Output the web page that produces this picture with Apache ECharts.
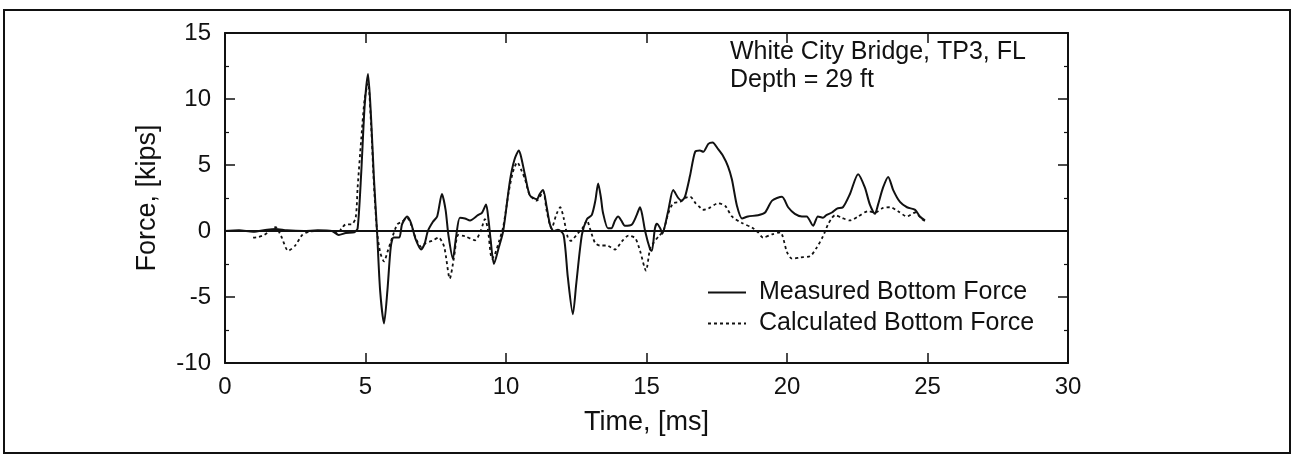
<!DOCTYPE html>
<html>
<head>
<meta charset="utf-8">
<script src="https://cdn.jsdelivr.net/npm/echarts@6/dist/echarts.min.js"></script>
<style>
  html, body { margin: 0; padding: 0; background: #fff; }
  #chart { width: 1294px; height: 458px; }
</style>
</head>
<body>
<div id="chart"></div>
<script>
// Time axis ticks [ms] and force axis ticks [kips]
const timeTicks = [0, 5, 10, 15, 20, 25, 30];
const forceTicks = [-10, -5, 0, 5, 10, 15];

// Measured bottom force record
const timeMeasured = [
  0.0, 0.5, 1.0, 1.5, 1.8, 2.2, 2.8, 3.3, 3.8, 4.05, 4.3, 4.6, 4.72, 4.85, 4.97, 5.09,
  5.2, 5.3, 5.41, 5.52, 5.66, 5.78, 5.9, 6.0, 6.2, 6.3, 6.48, 6.62, 6.78, 6.98, 7.1, 7.22,
  7.4, 7.55, 7.72, 7.85, 7.95, 8.11, 8.22, 8.36, 8.54, 8.72, 9.0, 9.15, 9.29, 9.38, 9.45, 9.57,
  9.75, 9.9, 10.14, 10.3, 10.46, 10.55, 10.68, 10.85, 11.1, 11.2, 11.32, 11.45, 11.57, 11.7, 11.85, 12.05,
  12.2, 12.38, 12.5, 12.7, 12.88, 13.05, 13.18, 13.28, 13.38, 13.45, 13.63, 13.75, 13.88, 13.99, 14.1, 14.23,
  14.48, 14.65, 14.77, 14.85, 14.95, 15.13, 15.19, 15.3, 15.37, 15.49, 15.56, 15.77, 15.95, 16.13, 16.25, 16.37,
  16.55, 16.73, 16.9, 17.02, 17.2, 17.35, 17.55, 17.72, 17.9, 18.04, 18.22, 18.4, 18.61, 18.97, 19.22, 19.47,
  19.82, 20.04, 20.28, 20.53, 20.7, 20.93, 21.1, 21.28, 21.4, 21.6, 21.78, 21.99, 22.24, 22.53, 22.77, 22.95,
  23.13, 23.24, 23.42, 23.6, 23.78, 24.02, 24.27, 24.56, 24.73, 24.91
];
const forceMeasured = [
  0, 0.05, -0.05, 0.1, 0.15, 0.05, 0, 0.05, 0, -0.3, -0.15, -0.1, 0.2, 4.5, 9.5, 11.9,
  8.5, 4.0, 0, -4.5, -7.0, -4.5, -1.2, -0.5, -0.5, 0.5, 1.1, 0.6, -0.6, -1.4, -1.0, 0,
  0.7, 1.1, 2.8, 1.6, -0.3, -2.1, -0.5, 1.0, 0.95, 0.8, 1.2, 1.4, 2.0, 0.8, -0.6, -2.5,
  -1.2, 0, 3.8, 5.4, 6.1, 5.5, 4.2, 2.7, 2.4, 2.8, 3.1, 1.8, 0.45, 0, 0.1, -0.3,
  -3.5, -6.3, -4.0, -0.3, 0.9, 1.2, 2.3, 3.6, 2.5, 1.4, 0.2, 0.2, 0.8, 1.1, 0.8, 0.4,
  0.5, 1.2, 1.8, 1.2, 0, -1.4, -1.5, 0.2, 0.55, 0.2, -0.2, 1.5, 3.1, 2.5, 2.3, 2.6,
  4.2, 6.0, 6.1, 6.0, 6.6, 6.7, 6.2, 5.7, 4.9, 3.9, 1.9, 0.95, 1.1, 1.2, 1.4, 2.3,
  2.6, 1.8, 1.3, 1.1, 1.1, 0.4, 1.1, 1.0, 1.2, 1.4, 1.7, 1.8, 2.8, 4.3, 3.3, 2.0,
  1.3, 2.0, 3.3, 4.1, 3.1, 2.2, 1.8, 1.6, 1.1, 0.8
];

// Calculated bottom force record
const timeCalculated = [
  1.0, 1.2, 1.4, 1.6, 1.8, 2.0, 2.25, 2.5, 2.75, 3.0, 3.5, 3.85, 4.0, 4.15, 4.3, 4.5,
  4.65, 4.72, 4.85, 4.97, 5.09, 5.2, 5.3, 5.41, 5.52, 5.66, 5.78, 5.95, 6.13, 6.3, 6.48, 6.62,
  6.78, 6.98, 7.15, 7.37, 7.6, 7.8, 8.0, 8.15, 8.3, 8.54, 8.9, 9.1, 9.25, 9.35, 9.5, 9.6,
  9.75, 9.9, 10.1, 10.25, 10.4, 10.55, 10.68, 10.85, 11.1, 11.32, 11.45, 11.62, 11.8, 11.93, 12.05, 12.2,
  12.3, 12.55, 12.75, 12.88, 13.0, 13.17, 13.34, 13.58, 13.88, 14.12, 14.36, 14.6, 14.77, 14.98, 15.13, 15.25,
  15.43, 15.6, 15.77, 15.95, 16.2, 16.37, 16.55, 16.75, 16.9, 17.0, 17.2, 17.55, 17.8, 18.04, 18.4, 18.76,
  18.97, 19.15, 19.47, 19.76, 20.0, 20.18, 20.48, 20.83, 21.06, 21.28, 21.46, 21.6, 21.71, 21.95, 22.24, 22.53,
  22.88, 23.13, 23.42, 23.67, 23.95, 24.27, 24.56, 24.8, 24.97
];
const forceCalculated = [
  -0.5, -0.45, -0.3, 0.0, 0.3, -0.4, -1.5, -1.1, -0.3, -0.05, 0.0, 0.0, -0.2, 0.2, 0.5, 0.5,
  1.0, 3.3, 7.0, 10.0, 11.2, 8.0, 3.5, 0, -1.6, -2.3, -1.6, -0.5, 0.5, 0.7, 1.0, 0.5,
  -0.5, -1.2, -0.9, -0.75, -0.5, -1.2, -3.6, -2.0, -0.3, -0.4, -0.7, 0.0, 0.9, 0.2, -2.1, -1.8,
  -0.8, 0.3, 3.0, 4.5, 5.2, 4.6, 3.9, 2.7, 2.3, 3.0, 1.5, 0.2, 1.3, 1.8, 1.0, -0.5,
  -0.75, -0.2, 0.3, 0.8, 0.1, -0.9, -1.1, -1.1, -1.4, -0.8, -0.35, -0.55, -1.5, -3.0, -1.3, -0.9,
  -0.4, 0.0, 1.3, 2.1, 2.2, 2.5, 2.6, 2.1, 1.8, 1.6, 1.7, 2.1, 1.9, 1.1, 0.6, 0.25,
  -0.1, -0.5, -0.25, -0.1, -1.6, -2.1, -2.0, -1.9, -1.25, -0.4, 0.5, 1.0, 1.2, 1.0, 0.8, 1.1,
  1.5, 1.4, 1.75, 1.8, 1.5, 1.1, 1.4, 0.9, 0.7
];

const seriesNames = ['Measured Bottom Force', 'Calculated Bottom Force'];
const noteLines = ['White City Bridge, TP3, FL', 'Depth = 29 ft'];

const FONT = "'Liberation Sans', Arial, Helvetica, sans-serif";
const INK = '#111';

const zip = (xs, ys) => xs.map((x, i) => [x, ys[i]]);

const chart = echarts.init(document.getElementById('chart'), null, { renderer: 'canvas' });

const baseX = {
  type: 'value',
  min: timeTicks[0],
  max: timeTicks[timeTicks.length - 1],
  interval: 5,
  axisLine: { show: true, onZero: false, lineStyle: { color: INK, width: 2 } },
  axisTick: { show: true, inside: true, length: 10, lineStyle: { color: INK, width: 1.5 } },
  splitLine: { show: false }
};
const baseY = {
  type: 'value',
  min: forceTicks[0],
  max: forceTicks[forceTicks.length - 1],
  interval: 5,
  axisLine: { show: true, onZero: false, lineStyle: { color: INK, width: 2 } },
  axisTick: { show: true, inside: true, length: 10, lineStyle: { color: INK, width: 1.5 } },
  minorTick: { show: true, splitNumber: 2, length: 4, lineStyle: { color: INK, width: 1.2 } },
  splitLine: { show: false },
  minorSplitLine: { show: false }
};

chart.setOption({
  backgroundColor: '#fff',
  animation: false,
  textStyle: { fontFamily: FONT, color: INK },
  grid: { left: 225, right: 226, top: 33, bottom: 95, containLabel: false },
  xAxis: [
    Object.assign({}, baseX, {
      position: 'bottom',
      axisLabel: { show: true, fontSize: 24, color: INK, margin: 12, fontFamily: FONT },
      name: 'Time, [ms]',
      nameLocation: 'middle',
      nameGap: 46,
      nameTextStyle: { fontSize: 27, color: INK, fontFamily: FONT }
    }),
    Object.assign({}, baseX, { position: 'top', axisLabel: { show: false } })
  ],
  yAxis: [
    Object.assign({}, baseY, {
      position: 'left',
      axisLabel: { show: true, fontSize: 24, color: INK, margin: 14, fontFamily: FONT },
      name: 'Force, [kips]',
      nameLocation: 'middle',
      nameGap: 64,
      nameRotate: 90,
      nameTextStyle: { fontSize: 27, color: INK, fontFamily: FONT }
    }),
    Object.assign({}, baseY, { position: 'right', axisLabel: { show: false } })
  ],
  legend: {
    orient: 'vertical',
    left: 702,
    top: 275,
    itemWidth: 38,
    itemHeight: 10,
    itemGap: 6,
    itemStyle: { opacity: 0 },
    textStyle: { fontSize: 25, color: INK, fontFamily: FONT, padding: [0, 0, 0, 8] },
    data: seriesNames,
    selectedMode: false
  },
  graphic: [
    {
      type: 'rect',
      silent: true,
      shape: { x: 4, y: 10, width: 1286, height: 443 },
      style: { fill: 'none', stroke: INK, lineWidth: 2 }
    },
    {
      type: 'text',
      silent: true,
      left: 730,
      top: 38,
      style: {
        text: noteLines.join('\n'),
        font: '25px ' + FONT,
        fill: INK,
        lineHeight: 28
      }
    }
  ],
  series: [
    {
      name: seriesNames[0],
      type: 'line',
      data: zip(timeMeasured, forceMeasured),
      showSymbol: false,
      symbol: 'none',
      smooth: 0.25,
      lineStyle: { color: INK, width: 2, type: 'solid' },
      itemStyle: { color: INK },
      markLine: {
        silent: true,
        symbol: 'none',
        label: { show: false },
        lineStyle: { color: INK, width: 1.8, type: 'solid' },
        data: [{ yAxis: 0 }]
      },
      z: 3
    },
    {
      name: seriesNames[1],
      type: 'line',
      data: zip(timeCalculated, forceCalculated),
      showSymbol: false,
      symbol: 'none',
      smooth: 0.25,
      lineStyle: { color: INK, width: 1.8, type: [3, 3] },
      itemStyle: { color: INK },
      z: 2
    }
  ]
});
</script>
</body>
</html>
